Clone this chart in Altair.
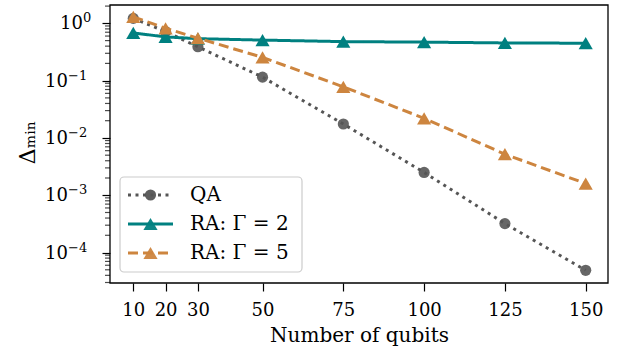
import altair as alt
import pandas as pd

# ---- data ----
qubits = [10, 20, 30, 50, 75, 100, 125, 150]
qa = [1.22, 0.72, 0.39, 0.115, 0.0175, 0.0025, 0.00032, 0.000049]
ra_g2 = [0.68, 0.58, 0.54, 0.51, 0.48, 0.47, 0.455, 0.45]
ra_g5 = [1.30, 0.82, 0.55, 0.255, 0.078, 0.022, 0.0052, 0.0016]

series_names = ["QA", "RA: Γ = 2", "RA: Γ = 5"]
series_colors = ["#555555", "#008080", "#CD853F"]
series_dashes = [[3, 4.5], [1, 0], [10, 5]]
series_shapes = ["circle", "triangle-up", "triangle-up"]
x_ticks = [10, 20, 30, 50, 75, 100, 125, 150]
y_major = [1e-4, 1e-3, 1e-2, 1e-1, 1.0]
y_label_base = ["10", "10", "10", "10", "10"]
y_label_exp = ["\u22124", "\u22123", "\u22122", "\u22121", "0"]

rows = []
for name, vals in zip(series_names, [qa, ra_g2, ra_g5]):
    for q, v in zip(qubits, vals):
        rows.append({"qubits": q, "gap": v, "series": name})
df = pd.DataFrame(rows)

FONT = "DejaVu Serif"
Y_DOMAIN = [2.94e-5, 2.09]
X_DOMAIN = [2.8, 156.9]

# minor tick positions of the log axis (2..9 x 10^d)
minor_vals = []
for d in range(-5, 1):
    for k in range(2, 10):
        v = k * 10.0 ** d
        if Y_DOMAIN[0] <= v <= Y_DOMAIN[1]:
            minor_vals.append(v)
df_minor = pd.DataFrame({"gap": minor_vals})
df_ylab = pd.DataFrame({"gap": y_major, "base": y_label_base, "exp": y_label_exp})

x_enc = alt.X(
    "qubits:Q",
    scale=alt.Scale(domain=X_DOMAIN, nice=False, zero=False),
    axis=alt.Axis(
        values=x_ticks, title="Number of qubits", grid=False, domain=False,
        tickSize=8, tickColor="black", tickWidth=1.2,
        labelPadding=10, labelBaseline="top",
        titleBaseline="alphabetic", titleY=58.7,
    ),
)
y_enc = alt.Y(
    "gap:Q",
    scale=alt.Scale(type="log", domain=Y_DOMAIN, nice=False),
    axis=alt.Axis(
        values=y_major, labels=False, title="Δₘᵢₙ", grid=False, domain=False,
        tickSize=8, tickColor="black", tickWidth=1.2,
        titleBaseline="alphabetic", titleX=-76, titleY=137, titleAngle=270, titleFontSize=22,
    ),
)

color_scale = alt.Scale(domain=series_names, range=series_colors)
dash_scale = alt.Scale(domain=series_names, range=series_dashes)
shape_scale = alt.Scale(domain=series_names, range=series_shapes)

base = alt.Chart(df)

main_layers = []
# minor ticks of the log axis
main_layers.append(
    alt.Chart(df_minor).mark_tick(color="black", thickness=1.2, size=5, orient="horizontal").encode(
        x=alt.value(-2.5), y=y_enc
    )
)
# y tick labels: "10" with a raised exponent, left-aligned per label width group
ylab = alt.Chart(df_ylab)
neg = ylab.transform_filter(alt.datum.gap < 0.5)
pos = ylab.transform_filter(alt.datum.gap >= 0.5)
base_style = dict(align="left", baseline="middle", font=FONT, fontSize=18, color="black", dy=1)
exp_style = dict(align="left", baseline="middle", font=FONT, fontSize=13, color="black", dy=-5)
main_layers += [
    neg.mark_text(**base_style).encode(x=alt.value(-65), y=y_enc, text="base:N"),
    neg.mark_text(**exp_style).encode(x=alt.value(-42), y=y_enc, text="exp:N"),
    pos.mark_text(**base_style).encode(x=alt.value(-50), y=y_enc, text="base:N"),
    pos.mark_text(**exp_style).encode(x=alt.value(-27), y=y_enc, text="exp:N"),
]

sizes = [125, 200, 200]
for name, shp, sz in zip(series_names, series_shapes, sizes):
    sub = base.transform_filter(alt.datum.series == name)
    line = sub.mark_line(strokeWidth=3, opacity=1).encode(
        x=x_enc, y=y_enc,
        color=alt.Color("series:N", scale=color_scale, legend=None),
        strokeDash=alt.StrokeDash("series:N", scale=dash_scale, legend=None),
    )
    pts = sub.mark_point(filled=True, shape=shp, size=sz, opacity=0.9 if name == "QA" else 1,
                         strokeWidth=0).encode(
        x=x_enc, y=y_enc,
        color=alt.Color("series:N", scale=color_scale, legend=None),
    )
    main_layers += [line, pts]

# black frame around the plot area
frame = alt.Chart(pd.DataFrame({"f": [0]})).mark_rect(
    fillOpacity=0, stroke="black", strokeWidth=1.3
).encode(x=alt.value(0), x2=alt.value(498), y=alt.value(0), y2=alt.value(278))
main_layers.append(frame)

main = alt.layer(*main_layers)

# ---- legend drawn from the series list ----
df_leg = pd.DataFrame({"series": series_names, "size": sizes})
leg_y = alt.Y("series:N", scale=alt.Scale(type="point", domain=series_names, range=[190, 248], padding=0),
              axis=None)
leg_box = alt.Chart(pd.DataFrame({"f": [0]})).mark_rect(
    fill="white", fillOpacity=0.85, stroke="#cccccc", strokeWidth=1.2, cornerRadius=4
).encode(x=alt.value(10), x2=alt.value(192), y=alt.value(172), y2=alt.value(267))
leg_lines = alt.Chart(df_leg).mark_rule(strokeWidth=3).encode(
    x=alt.value(18), x2=alt.value(63), y=leg_y,
    color=alt.Color("series:N", scale=color_scale, legend=None),
    strokeDash=alt.StrokeDash("series:N", scale=dash_scale, legend=None),
)
leg_pts = alt.Chart(df_leg).mark_point(filled=True, strokeWidth=0, opacity=0.95).encode(
    x=alt.value(40.5), y=leg_y,
    color=alt.Color("series:N", scale=color_scale, legend=None),
    shape=alt.Shape("series:N", scale=shape_scale, legend=None),
    size=alt.Size("size:Q", scale=None, legend=None),
)
leg_text = alt.Chart(df_leg).mark_text(
    align="left", baseline="middle", font=FONT, fontSize=20, color="black"
).encode(x=alt.value(80), y=leg_y, text="series:N")
legend = alt.layer(leg_box, leg_lines, leg_pts, leg_text)

chart = alt.layer(main, legend).resolve_scale(y="independent").properties(
    width=498, height=278,
    padding={"left": 110, "top": 5, "right": 21, "bottom": 69},
    autosize=alt.AutoSizeParams(type="none"),
    background="white",
).configure_view(stroke=None).configure_axis(
    labelFont=FONT, labelFontSize=18, labelColor="black",
    titleFont=FONT, titleFontSize=20, titleFontWeight="normal", titleColor="black",
)

chart.save("out.html", embed_options={"renderer": "svg", "actions": False})
